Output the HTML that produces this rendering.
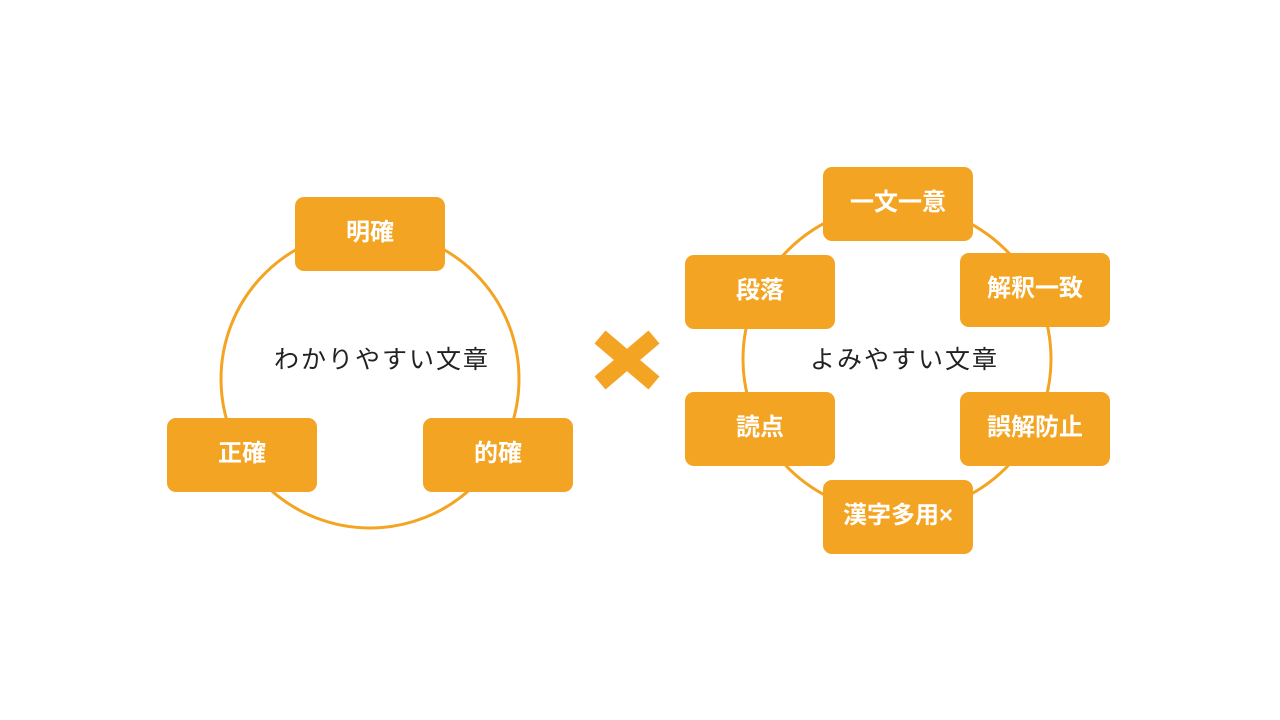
<!DOCTYPE html>
<html><head><meta charset="utf-8"><style>
body{margin:0;width:1280px;height:720px;background:#fff;overflow:hidden;position:relative;font-family:"Liberation Sans","Noto Sans CJK JP",sans-serif}
.b{position:absolute;width:150px;height:74px;box-sizing:border-box;padding-bottom:10px;background:#F4A423;border-radius:9px;color:#fff;font-weight:bold;font-size:24px;display:flex;align-items:center;justify-content:center}
.t{position:absolute;font-size:25px;color:#222;white-space:nowrap;letter-spacing:2px}
</style></head><body>
<svg width="1280" height="720" style="position:absolute;left:0;top:0">
<circle cx="370" cy="379" r="149" fill="none" stroke="#F4A423" stroke-width="3"/>
<circle cx="897" cy="359" r="154" fill="none" stroke="#F4A423" stroke-width="3"/>
<g stroke="#F4A423" stroke-width="17"><line x1="600" y1="337" x2="654" y2="383"/><line x1="654" y1="337" x2="600" y2="383"/></g>
</svg>
<div class="b" style="left:295px;top:197px">明確</div>
<div class="b" style="left:167px;top:418px">正確</div>
<div class="b" style="left:423px;top:418px">的確</div>
<div class="t" style="left:274px;top:340px">わかりやすい文章</div>
<div class="t" style="left:810px;top:340px">よみやすい文章</div>
<div class="b" style="left:823px;top:167px">一文一意</div>
<div class="b" style="left:685px;top:255px">段落</div>
<div class="b" style="left:960px;top:253px">解釈一致</div>
<div class="b" style="left:685px;top:392px">読点</div>
<div class="b" style="left:960px;top:392px">誤解防止</div>
<div class="b" style="left:823px;top:480px">漢字多用×</div>
</body></html>
